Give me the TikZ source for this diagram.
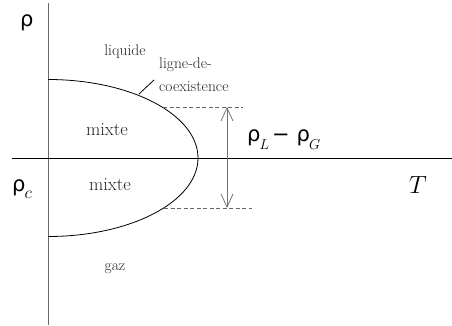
\documentclass[tikz,border=0pt]{standalone}
\usepackage{fontspec}
\newfontfamily\rhofont{DejaVu Sans}
\usetikzlibrary{arrows.meta}
\newcommand{\subit}[2]{\raisebox{-#2}{\fontsize{15}{17}\selectfont$#1$}}
\tikzset{
  lbl/.style={inner sep=0pt, font=\fontsize{15.5}{18}\selectfont, text=black!85},
  mix/.style={inner sep=0pt, font=\fontsize{18.5}{21}\selectfont, text=black!85},
  rholbl/.style={inner sep=0pt, font=\fontsize{21}{24}\rhofont, text=black},
  axisv/.style={draw=black!60, line width=0.9pt},
  axish/.style={draw=black, line width=0.8pt},
  curve/.style={draw=black, line width=0.8pt},
  guide/.style={draw=black!60, dash pattern=on 4pt off 2.5pt, line width=0.7pt},
  gap/.style={draw=black!55, line width=0.8pt, {Straight Barb[length=13pt,width=12pt]}-{Straight Barb[length=13pt,width=12pt]}}
}
\begin{document}
\begin{tikzpicture}[x=1pt,y=-1pt]
\useasboundingbox (0,0) rectangle (452,326);
% axes
\coordinate (vtop) at (48,3);
\coordinate (vbot) at (48,325);
\coordinate (hl) at (12,158);
\coordinate (hr) at (452,158);
\draw[axisv] (vtop) -- (vbot);
\draw[axish] (hl) -- (hr);
% coexistence curve
\draw[curve] (48,79.5) arc[start angle=-90,end angle=90,x radius=150,y radius=78.5];
% dashed guides
\coordinate (dt1) at (163,107);
\coordinate (dt2) at (243,107);
\coordinate (db1) at (164,208);
\coordinate (db2) at (252,208);
\draw[guide] (dt1) -- (dt2);
\draw[guide] (db1) -- (db2);
\coordinate (at) at (227,107);
\coordinate (ab) at (227,208);
\draw[gap] (at) -- (ab);
% labels
\node[rholbl, anchor=base west] (rho) at (20,27) {ρ};
\node[rholbl, anchor=base west] (rhoc) at (12,191) {ρ\kern-1pt\raisebox{-7pt}{\fontsize{19}{21}\selectfont$c$}};
\node[inner sep=0pt, font=\fontsize{24}{26}\selectfont] (T) at (418,185) {$T$};
\node[lbl] (liq) at (125,52) {liquide};
\node[lbl, anchor=west] (l1) at (159,65) {ligne-de-};
\node[lbl, anchor=west] (l2) at (159,87) {coexistence};
\node[mix] (m1) at (107,130) {mixte};
\node[mix] (m2) at (110,185) {mixte};
\node[lbl] (gaz) at (115,269) {gaz};
\node[rholbl, anchor=base west] (diff) at (247,142) {ρ\kern-1pt\subit{L}{7pt}\kern3pt−\kern7pt ρ\kern-1pt\subit{G}{7pt}};
% tick from curve to label
\coordinate (tk1) at (139,94);
\coordinate (tk2) at (154,80);
\draw[curve] (tk1) -- (tk2);
\end{tikzpicture}
\end{document}
